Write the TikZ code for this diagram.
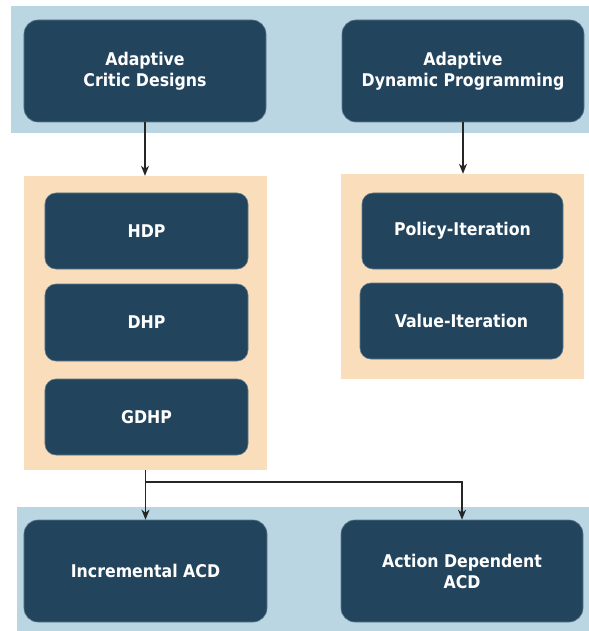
\documentclass[tikz,border=0pt]{standalone}
\usepackage{fontspec}
\setmainfont{DejaVu Sans Condensed}
\usetikzlibrary{arrows.meta}
\definecolor{nodeblue}{HTML}{23445D}
\definecolor{nodeedge}{HTML}{5B7A8F}
\definecolor{bandblue}{HTML}{B9D6E2}
\definecolor{panelorange}{HTML}{FADEBC}
\tikzset{
  box/.style={draw=nodeedge, line width=0.6bp, fill=nodeblue, text=white,
    font=\bfseries\fontsize{17.6}{21}\selectfont, align=center,
    inner sep=0pt, anchor=center},
  bigbox/.style={box, rounded corners=14bp},
  smallbox/.style={box, rounded corners=11bp},
  band/.style={fill=bandblue, draw=none, inner sep=0pt},
  panel/.style={fill=panelorange, draw=none, inner sep=0pt},
  conn/.style={line width=1.1bp, draw=black!85, -{Stealth[length=10bp,width=8bp,inset=3bp]}},
}
\begin{document}
\begin{tikzpicture}[x=1bp,y=-1bp]
\useasboundingbox (0,0) rectangle (589,631);
% bands and panels
\node[band, minimum width=578bp, minimum height=127bp] (topband) at (300,69.5) {};
\node[band, minimum width=572bp, minimum height=124bp] (botband) at (303,569) {};
\node[panel, minimum width=243bp, minimum height=294bp] (acdpanel) at (145.5,323) {};
\node[panel, minimum width=243bp, minimum height=205bp] (adppanel) at (462.5,276.5) {};
% nodes
\node[bigbox, minimum width=242bp, minimum height=102bp] (acd) at (145,71) {Adaptive\\Critic Designs};
\node[bigbox, minimum width=242bp, minimum height=102bp] (adp) at (463,71) {Adaptive\\Dynamic Programming};
\node[smallbox, minimum width=203bp, minimum height=76bp] (hdp) at (146.5,231) {HDP};
\node[smallbox, minimum width=203bp, minimum height=77bp] (dhp) at (146.5,322.5) {DHP};
\node[smallbox, minimum width=203bp, minimum height=76bp] (gdhp) at (146.5,417) {GDHP};
\node[smallbox, minimum width=201bp, minimum height=76bp] (pi) at (462.5,231) {Policy-Iteration};
\node[smallbox, minimum width=203bp, minimum height=76bp] (vi) at (461.5,321) {Value-Iteration};
\node[bigbox, minimum width=243bp, minimum height=102bp] (inc) at (145.5,571) {Incremental ACD};
\node[bigbox, minimum width=242bp, minimum height=102bp] (adacd) at (462,571) {Action Dependent\\ACD};
% connectors
\draw[conn] (acd.south) -- (acd.south |- acdpanel.north);
\draw[conn] (adp.south) -- (adp.south |- adppanel.north);
\draw[conn] (acdpanel.south -| inc.north) -- (inc.north);
\coordinate (bend) at (145.5,482);
\draw[conn] (acdpanel.south -| inc.north) -- (bend) -- (bend -| adacd.north) -- (adacd.north);
\end{tikzpicture}
\end{document}
